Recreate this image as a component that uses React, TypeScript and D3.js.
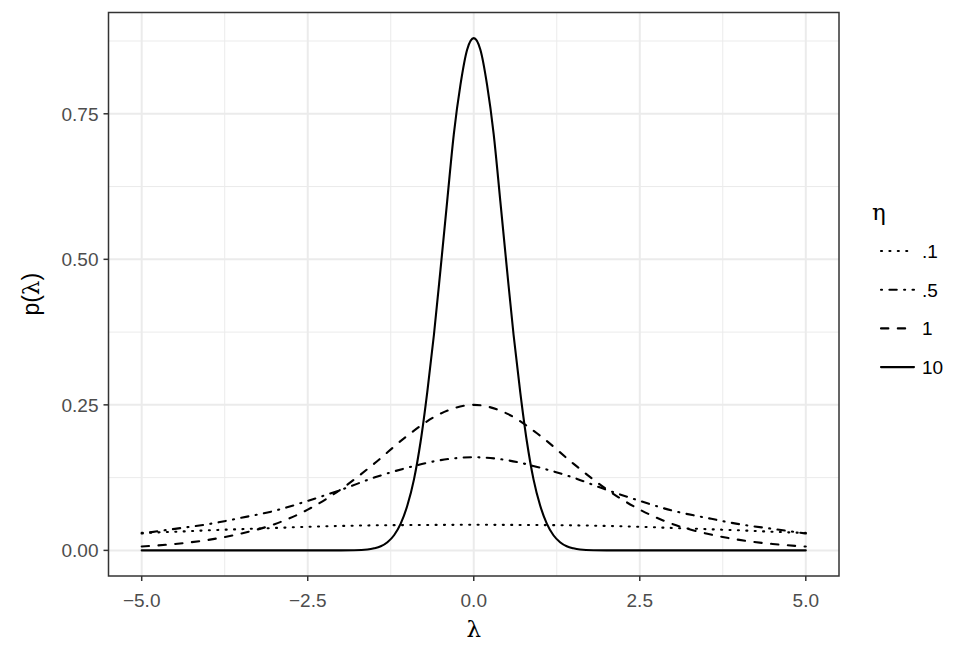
import React from "react";
import * as d3 from "d3";

// lambda grid for the wide curves, and a finer one for eta = 10
const lambdaCoarse = [-5, -4.5, -4, -3.5, -3, -2.5, -2, -1.5, -1, -0.5, 0, 0.5, 1, 1.5, 2, 2.5, 3, 3.5, 4, 4.5, 5];
const lambdaFine = [
  -5, -4, -3, -2, -1.8, -1.6, -1.5, -1.4, -1.3, -1.2, -1.1, -1, -0.9, -0.8, -0.7, -0.6, -0.5, -0.4, -0.3, -0.2, -0.1,
  0, 0.1, 0.2, 0.3, 0.4, 0.5, 0.6, 0.7, 0.8, 0.9, 1, 1.1, 1.2, 1.3, 1.4, 1.5, 1.6, 1.8, 2, 3, 4, 5,
];

const eta01 = [0.03, 0.032, 0.0345, 0.0365, 0.0385, 0.0405, 0.042, 0.043, 0.0435, 0.0438, 0.044, 0.0438, 0.0435, 0.043, 0.042, 0.0405, 0.0385, 0.0365, 0.0345, 0.032, 0.03];
const eta05 = [0.029, 0.037, 0.045, 0.056, 0.068, 0.085, 0.104, 0.125, 0.142, 0.155, 0.16, 0.155, 0.142, 0.125, 0.104, 0.085, 0.068, 0.056, 0.045, 0.037, 0.029];
const eta1 = [0.0066, 0.011, 0.018, 0.029, 0.045, 0.07, 0.105, 0.149, 0.197, 0.235, 0.25, 0.235, 0.197, 0.149, 0.105, 0.07, 0.045, 0.029, 0.018, 0.011, 0.0066];
const eta10 = [
  0, 0, 0, 0.0001, 0.0003, 0.0015, 0.0035, 0.007, 0.014, 0.026, 0.046, 0.077, 0.122, 0.187, 0.272, 0.37, 0.483, 0.6, 0.715, 0.8, 0.86,
  0.88, 0.86, 0.8, 0.715, 0.6, 0.483, 0.37, 0.272, 0.187, 0.122, 0.077, 0.046, 0.026, 0.014, 0.007, 0.0035, 0.0015, 0.0003, 0.0001, 0, 0, 0,
];

const etaLabels = [".1", ".5", "1", "10"];
const xTicks = [-5, -2.5, 0, 2.5, 5];
const xMinor = [-3.75, -1.25, 1.25, 3.75];
const yTicks = [0, 0.25, 0.5, 0.75];
const yMinor = [0.125, 0.375, 0.625, 0.875];

const width = 969,
  height = 646;
const margin = { top: 12.5, right: 130, bottom: 70, left: 108.5 };

const u = 2.1; // R lwd unit in px
// round caps add half a unit at each end, so the "on" parts are shortened
const dashes = [
  `${0.5 * u} ${3.5 * u}`,
  `${0.5 * u} ${3.5 * u} ${3.5 * u} ${3.5 * u}`,
  `${3.5 * u} ${4.5 * u}`,
  "none",
];

const sans = "'Liberation Sans', Arial, sans-serif";
const greek = "'DejaVu Serif', 'Liberation Serif', serif";

export default function App() {
  const series = [
    { label: etaLabels[0], xs: lambdaCoarse, ys: eta01, dash: dashes[0] },
    { label: etaLabels[1], xs: lambdaCoarse, ys: eta05, dash: dashes[1] },
    { label: etaLabels[2], xs: lambdaCoarse, ys: eta1, dash: dashes[2] },
    { label: etaLabels[3], xs: lambdaFine, ys: eta10, dash: dashes[3] },
  ];

  const x = d3.scaleLinear().domain([-5.5, 5.5]).range([margin.left, width - margin.right]);
  const y = d3.scaleLinear().domain([-0.044, 0.924]).range([height - margin.bottom, margin.top]);

  const line = d3
    .line<[number, number]>()
    .x(d => x(d[0]))
    .y(d => y(d[1]))
    .curve(d3.curveMonotoneX);

  const [x0, x1] = x.range();
  const [y0, y1] = y.range();

  const legendX = 881,
    legendY = 251,
    legendStep = 38.7;

  return (
    <svg width={width} height={height} style={{ position: "absolute", left: 0, top: 0, background: "#fff" }}>
      <rect x={0} y={0} width={width} height={height} fill="#fff" />
      {/* grid */}
      {yMinor.map(t => (
        <line key={"ym" + t} x1={x0} x2={x1} y1={y(t)} y2={y(t)} stroke="#EBEBEB" strokeWidth={1} />
      ))}
      {xMinor.map(t => (
        <line key={"xm" + t} x1={x(t)} x2={x(t)} y1={y0} y2={y1} stroke="#EBEBEB" strokeWidth={1} />
      ))}
      {yTicks.map(t => (
        <line key={"yg" + t} x1={x0} x2={x1} y1={y(t)} y2={y(t)} stroke="#EBEBEB" strokeWidth={2} />
      ))}
      {xTicks.map(t => (
        <line key={"xg" + t} x1={x(t)} x2={x(t)} y1={y0} y2={y1} stroke="#EBEBEB" strokeWidth={2} />
      ))}

      {/* curves */}
      {series.map(s => (
        <path
          key={s.label}
          d={line(s.xs.map((v, i) => [v, s.ys[i]] as [number, number])) || ""}
          fill="none"
          stroke="#000"
          strokeWidth={u}
          strokeLinecap="round"
          strokeDasharray={s.dash}
        />
      ))}

      <rect x={x0} y={y1} width={x1 - x0} height={y0 - y1} fill="none" stroke="#333" strokeWidth={1.5} />

      {/* axes */}
      {xTicks.map(t => (
        <g key={"xt" + t}>
          <line x1={x(t)} x2={x(t)} y1={y0} y2={y0 + 5} stroke="#333" strokeWidth={1.5} />
          <text x={x(t)} y={y0 + 31} textAnchor="middle" fontFamily={sans} fontSize={19} fill="#4D4D4D">
            {t < 0 ? "\u2212" + Math.abs(t).toFixed(1) : t.toFixed(1)}
          </text>
        </g>
      ))}
      {yTicks.map(t => (
        <g key={"yt" + t}>
          <line x1={x0 - 5} x2={x0} y1={y(t)} y2={y(t)} stroke="#333" strokeWidth={1.5} />
          <text x={x0 - 10} y={y(t)} dy="0.36em" textAnchor="end" fontFamily={sans} fontSize={19} fill="#4D4D4D">
            {d3.format(".2f")(t)}
          </text>
        </g>
      ))}

      <text x={(x0 + x1) / 2} y={637} textAnchor="middle" fontFamily={greek} fontSize={23} fill="#000">
        λ
      </text>
      <text
        transform={`translate(39, ${(y0 + y1) / 2}) rotate(-90)`}
        textAnchor="middle"
        fontFamily={sans}
        fontSize={23}
        fill="#000"
      >
        p(<tspan fontFamily={greek}>λ</tspan>)
      </text>

      {/* legend */}
      <text x={872} y={220} fontFamily={greek} fontSize={23} fill="#000">
        η
      </text>
      {series.map((s, i) => (
        <g key={"lg" + s.label} transform={`translate(${legendX}, ${legendY + i * legendStep})`}>
          <line x1={0} x2={33} y1={0} y2={0} stroke="#000" strokeWidth={u} strokeLinecap="round" strokeDasharray={s.dash} />
          <text x={41} y={0} dy="0.36em" fontFamily={sans} fontSize={19} fill="#000">
            {s.label}
          </text>
        </g>
      ))}
    </svg>
  );
}
